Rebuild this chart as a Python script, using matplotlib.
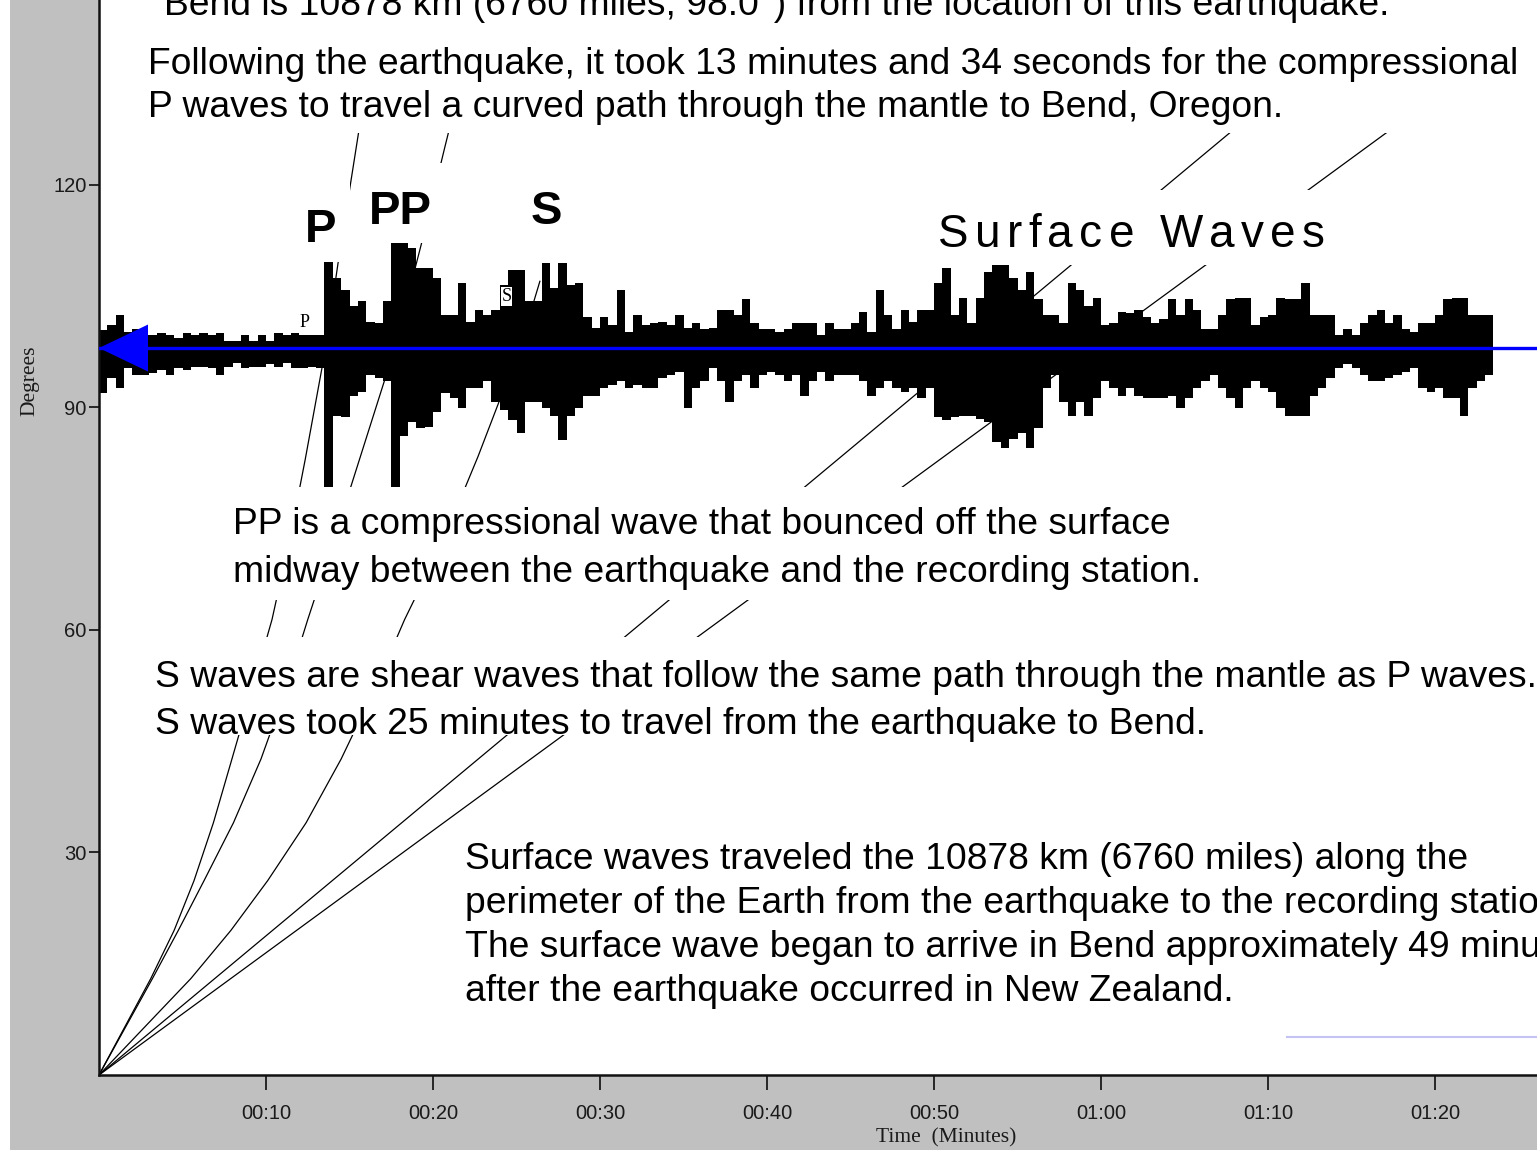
import numpy as np
import matplotlib
matplotlib.use("Agg")
import matplotlib.pyplot as plt
from matplotlib.patches import Rectangle, Polygon
from matplotlib import font_manager
from matplotlib.font_manager import FontProperties
from matplotlib.ft2font import FT2Font

# ---------------- data ----------------
station_deg = 98.0          # epicentral distance of Bend, Oregon (degrees)
trace_start = 0.0           # minutes
trace_step = 0.5            # minutes per envelope sample

# seismogram envelope (degrees above / below the station line), one value per 0.5 min
trace_up = [
    2.4, 3.1, 4.5, 2.2, 2.5, 1.8, 1.8, 2.0, 1.8, 1.4,
    2.0, 1.8, 2.0, 1.8, 2.0, 1.0, 1.0, 1.8, 1.0, 1.8,
    1.0, 2.0, 1.8, 2.0, 1.8, 1.8, 1.8, 11.6, 9.4, 7.8,
    5.6, 6.3, 3.5, 3.4, 6.3, 14.5, 14.5, 13.5, 10.8, 10.8,
    9.4, 4.5,
    4.5, 8.8, 3.5, 5.1, 4.5, 5.1, 8.5, 10.5, 10.5, 6.3,
    6.3, 11.5, 8.1, 11.5, 8.5, 8.8, 4.2, 2.7, 4.2, 3.1,
    7.8, 2.2, 4.5, 3.1, 3.4, 3.5, 3.1, 4.5, 2.7, 3.4,
    2.5, 2.7, 5.1, 5.1, 4.5, 6.6, 3.4, 2.5, 2.5, 2.2,
    2.5, 3.4,
    3.4, 3.4, 1.8, 3.4, 2.5, 2.5, 3.4, 4.9, 2.2, 7.8,
    4.5, 2.5, 5.1, 3.5, 5.1, 5.1, 8.8, 10.8, 4.5, 6.8,
    3.4, 6.8, 10.3, 12.5, 12.5, 9.5, 7.8, 10.3, 6.6, 4.5,
    4.5, 3.4, 8.8, 7.8, 5.6, 6.8, 3.1, 3.4, 4.9, 4.7,
    5.1, 4.2,
    3.4, 3.9, 6.6, 4.5, 6.6, 5.1, 2.5, 2.5, 4.5, 6.6,
    6.8, 6.8, 3.1, 4.2, 4.5, 6.8, 6.6, 6.6, 8.8, 4.5,
    4.5, 4.5, 1.8, 2.5, 1.8, 3.4, 4.5, 5.1, 3.4, 4.5,
    2.5, 2.2, 3.4, 3.4, 4.5, 6.6, 6.8, 6.8, 4.5, 4.5,
    4.5,
]
trace_down = [
    6.0, 4.1, 5.4, 2.7, 3.6, 3.6, 3.3, 3.0, 3.6, 2.7,
    3.0, 2.5, 2.5, 2.7, 3.6, 2.5, 2.0, 2.7, 2.5, 2.5,
    2.2, 2.5, 2.0, 2.7, 2.7, 2.5, 2.7, 19.0, 9.1, 9.3,
    6.4, 5.9, 3.6, 4.1, 4.5, 19.0, 11.8, 10.0, 10.8, 10.7,
    8.6, 6.0,
    6.8, 8.1, 5.4, 5.4, 4.5, 7.3, 8.4, 9.7, 11.5, 7.3,
    7.3, 8.1, 9.1, 12.4, 9.1, 8.1, 6.4, 6.4, 5.4, 5.0,
    4.5, 5.4, 5.0, 5.4, 5.4, 4.1, 3.6, 3.2, 8.1, 5.4,
    4.5, 2.7, 4.5, 7.3, 4.5, 3.6, 5.4, 3.6, 3.2, 3.6,
    4.5, 3.6,
    6.4, 4.5, 3.2, 4.5, 3.6, 3.6, 3.6, 4.5, 6.4, 5.4,
    4.5, 5.4, 5.9, 5.4, 6.8, 5.4, 9.3, 9.7, 9.3, 9.1,
    9.1, 9.5, 10.0, 12.7, 13.5, 12.2, 11.5, 13.5, 10.8, 5.4,
    3.6, 7.3, 9.1, 7.3, 9.1, 6.8, 4.5, 5.4, 6.4, 5.4,
    6.4, 6.8,
    6.8, 6.8, 6.4, 8.1, 6.8, 5.4, 4.5, 3.6, 5.4, 6.8,
    8.1, 5.4, 4.5, 5.4, 5.9, 8.1, 9.1, 9.1, 9.1, 6.4,
    5.4, 4.1, 2.7, 2.2, 2.7, 3.6, 4.5, 4.5, 4.1, 3.6,
    3.2, 2.7, 5.4, 5.9, 5.4, 6.8, 6.8, 9.1, 5.4, 4.5,
    3.6,
]

# travel-time curves: distance (degrees) vs time (minutes)
p_deg = [0, 6.5, 13, 19.5, 26.2, 34, 42.6, 52, 61.4, 72, 83, 98, 110, 125, 145]
p_min = [0, 1.55, 3.1, 4.5, 5.69, 6.85, 7.96, 9.17, 10.36, 11.4, 12.35, 13.57, 14.35, 15.4, 16.8]
pp_deg = [0, 6.5, 13, 19.5, 26.2, 34, 42.6, 52, 61.4, 72, 83, 94, 98, 112, 125, 145]
pp_min = [0, 1.6, 3.2, 4.75, 6.29, 8.05, 9.7, 11.2, 12.5, 14.05, 15.6, 17.15, 17.7, 19.3, 20.7, 22.9]
s_deg = [0, 6.5, 13, 19.5, 26.2, 34, 42.6, 52, 61.4, 72, 83.4, 92.2, 98, 107]
s_min = [0, 2.75, 5.5, 7.9, 10.1, 12.4, 14.5, 16.5, 18.3, 20.6, 22.7, 24.2, 25.2, 26.4]
surf1_deg = [0, 145]
surf1_min = [0, 77.3]
surf2_deg = [0, 145]
surf2_min = [0, 88.0]

xtick_min = [10, 20, 30, 40, 50, 60, 70, 80]
xtick_labels = ["00:10", "00:20", "00:30", "00:40", "00:50", "01:00", "01:10", "01:20"]
ytick_deg = [30, 60, 90, 120]

top_cut_text = "Bend is 10878 km (6760 miles, 98.0\u00b0) from the location of this earthquake."
p_text = ["Following the earthquake, it took 13 minutes and 34 seconds for the compressional",
          "P waves to travel a curved path through the mantle to Bend, Oregon."]
pp_text = ["PP is a compressional wave that bounced off the surface",
           "midway between the earthquake and the recording station."]
s_text = ["S waves are shear waves that follow the same path through the mantle as P waves.",
          "S waves took 25 minutes to travel from the earthquake to Bend."]
surf_text = ["Surface waves traveled the 10878 km (6760 miles) along the",
             "perimeter of the Earth from the earthquake to the recording station.",
             "The surface wave began to arrive in Bend approximately 49 minutes",
             "after the earthquake occurred in New Zealand."]

# ---------------- layout ----------------
W, H, DPI = 1537, 1150, 100
PX_MIN = 16.7       # pixels per minute
PX_DEG = 7.418      # pixels per degree
X0, Y0 = 99, 1075   # pixel of origin (left, from top)

SLIDE = ["Liberation Sans", "DejaVu Sans"]
SERIF = ["Liberation Serif", "DejaVu Serif"]
TICKF = ["Liberation Sans", "DejaVu Sans"]
FS = 26.8

fig = plt.figure(figsize=(W / DPI, H / DPI), dpi=DPI, facecolor="#c0c0c0")
ax = fig.add_axes([X0 / W, (H - Y0) / H, (W - X0) / W, Y0 / H])
ax.set_xlim(0, (W - X0) / PX_MIN)
ax.set_ylim(0, Y0 / PX_DEG)
ax.set_facecolor("white")
for s in ["top", "right"]:
    ax.spines[s].set_visible(False)
for s in ["left", "bottom"]:
    ax.spines[s].set_linewidth(1.8)
    ax.spines[s].set_color("#111111")

ax.set_xticks(xtick_min, xtick_labels)
ax.set_yticks(ytick_deg)
ax.tick_params(axis="y", direction="out", length=7, width=1.3, pad=2, labelsize=14.5, colors="#1a1a1a")
ax.tick_params(axis="x", direction="out", length=11, width=1.3, pad=10, labelsize=14.5, colors="#1a1a1a")
for lab in ax.get_xticklabels() + ax.get_yticklabels():
    lab.set_fontfamily(TICKF)

# travel-time curves
for dd, mm in [(p_deg, p_min), (pp_deg, pp_min), (s_deg, s_min),
               (surf1_deg, surf1_min), (surf2_deg, surf2_min)]:
    ax.plot(mm, dd, color="black", lw=0.9, zorder=1, solid_joinstyle="round")

# seismogram
up = np.asarray(trace_up)
dn = np.asarray(trace_down)
n = len(up)
edges = trace_start + trace_step * np.arange(n + 1)
ax.fill_between(edges, np.append(station_deg + up, station_deg + up[-1]),
                np.append(station_deg - dn, station_deg - dn[-1]),
                step="post", color="black", lw=0, zorder=2)

ax.text(12.3, station_deg + 3.4, "P", fontsize=13, family=SERIF, ha="center", va="center", zorder=3)
ax.text(24.4, station_deg + 6.9, "S", fontsize=13, family=SERIF, ha="center", va="center", zorder=3,
        bbox=dict(facecolor="white", edgecolor="none", pad=0.6))

# blue station line + arrow
ax.axhline(station_deg, color="#0000ff", lw=2.4, zorder=4)
ax.add_patch(Polygon([(0, station_deg), (49 / PX_MIN, station_deg + 23.5 / PX_DEG),
                      (49 / PX_MIN, station_deg - 23.5 / PX_DEG)], closed=True,
                     facecolor="#0000ff", edgecolor="none", zorder=5, clip_on=False))

# ---------------- overlay (slide elements) ----------------
ov = fig.add_axes([0, 0, 1, 1], zorder=5)
ov.set_xlim(0, W)
ov.set_ylim(H, 0)
ov.axis("off")
ov.patch.set_alpha(0)


def box(x0, y0, x1, y1):
    ov.add_patch(Rectangle((x0, y0), x1 - x0, y1 - y0, facecolor="white", edgecolor="none", zorder=1))


box(0, 0, 10, H)                 # white margin at left
box(140, 0, W, 133)              # top text box
box(296, 160, 350, 262)          # "P" label
box(362, 163, 445, 243)          # "PP" label
box(525, 180, 570, 232)          # "S" label
box(930, 190, 1400, 265)         # "Surface Waves"
box(225, 487, 1180, 600)         # PP description
box(148, 637, W, 735)            # S description
box(460, 830, W, 1005)           # surface description


def lines(x, baselines, texts, fs=FS):
    for yb, t in zip(baselines, texts):
        ov.text(x, yb, t, fontsize=fs, family=SLIDE, ha="left", va="baseline", zorder=3, color="black")


lines(164, [15], [top_cut_text])
lines(148, [74, 117], p_text)
lines(233, [534, 582], pp_text)
lines(155, [687, 734], s_text)
lines(465, [869, 913, 957, 1001], surf_text)

ov.text(321, 242, "P", fontsize=34, family=SLIDE, weight="bold", ha="center", va="baseline", zorder=3)
ov.text(400, 224, "PP", fontsize=34, family=SLIDE, weight="bold", ha="center", va="baseline", zorder=3)
ov.text(546, 224, "S", fontsize=34, family=SLIDE, weight="bold", ha="center", va="baseline", zorder=3)

# letter-spaced "Surface Waves"
sw = "Surface Waves"
sw_pt = 33
fpath = font_manager.findfont(FontProperties(family=SLIDE))
ft = FT2Font(fpath)
ft.set_size(sw_pt, DPI)
adv = []
for ch in sw:
    g = ft.load_char(ord(ch))
    adv.append(g.linearHoriAdvance / 65536.0)
x_start, x_end = 938, 1325
gap = (x_end - x_start - sum(adv)) / (len(sw) - 1)
xc = x_start
for ch, a in zip(sw, adv):
    ov.text(xc, 247, ch, fontsize=sw_pt, family=SLIDE, ha="left", va="baseline", zorder=3)
    xc += a + gap

ov.text(30, 381, "Degrees", rotation=90, fontsize=15.5, family=SERIF, ha="center", va="center", color="#1a1a1a")
ov.text(946, 1138, "Time  (Minutes)", fontsize=15.5, family=SERIF, ha="center", va="center", color="#1a1a1a")

ov.plot([1287, W], [1037, 1037], color="#c4c4f4", lw=1.5, zorder=2)

fig.savefig("out.png", dpi=DPI, facecolor=fig.get_facecolor())
